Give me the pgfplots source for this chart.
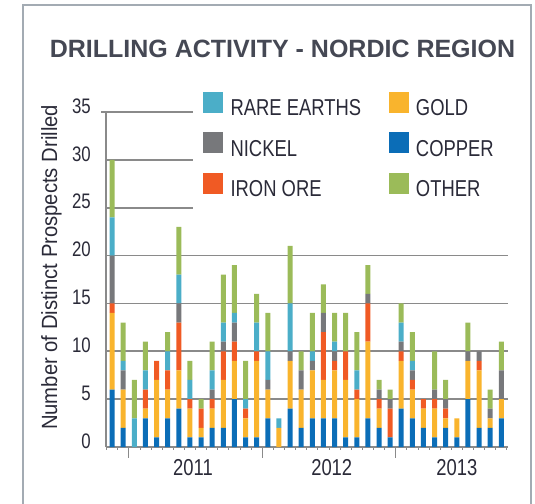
\documentclass[border=0pt]{standalone}
\usepackage{fontspec}
\setmainfont{Liberation Sans}
\newfontfamily\cond{Liberation Sans}[FakeStretch=0.8]
\newfontfamily\ylabfont{Liberation Sans}[FakeStretch=0.92]
\usepackage{pgfplots}
\usepackage{pgfplotstable}
\pgfplotsset{compat=1.18}
\definecolor{cCopper}{HTML}{0B6DB7}
\definecolor{cGold}{HTML}{F9B42D}
\definecolor{cIron}{HTML}{F05A24}
\definecolor{cNickel}{HTML}{77787B}
\definecolor{cRare}{HTML}{4BAEC8}
\definecolor{cOther}{HTML}{9BBB59}
\definecolor{cGrid}{HTML}{8A8A8A}
\definecolor{cText}{HTML}{2A2A38}
\definecolor{cTitle}{HTML}{454854}
\definecolor{cFrame}{HTML}{A3ABB3}

\pgfplotstableread{
i copper gold iron nickel rare other
1 6 8 1 5 4 6
2 2 4 0 2 1 4
3 0 0 0 0 3 4
4 3 1 2 0 2 3
5 1 6 2 0 0 0
6 3 3 2 0 2 2
7 4 4 5 2 3 5
8 1 3 1 0 2 2
9 1 1 2 0 0 1
10 2 2 1 1 2 3
11 2 5 3 1 2 5
12 5 4 2 2 1 5
13 1 2 1 0 1 4
14 1 8 1 0 3 3
15 3 3 0 1 3 4
16 0 2 0 0 1 0
17 4 5 0 1 5 6
18 2 4 0 2 0 2
19 3 5 0 1 1 4
20 3 4 5 2 0 3
21 3 5 1 1 1 3
22 1 6 3 0 0 4
23 1 4 1 0 2 4
24 3 8 4 1 0 3
25 2 2 1 1 0 1
26 1 0 3 1 0 1
27 4 5 1 1 2 2
28 3 3 1 1 1 3
29 2 2 1 0 0 0
30 1 3 1 1 0 4
31 2 1 1 1 0 2
32 1 2 0 0 0 0
33 5 4 0 1 0 3
34 2 6 1 1 0 0
35 2 1 0 1 0 2
36 3 2 0 3 0 3
}\drill

\begin{document}
\begin{tikzpicture}[x=1pt,y=1pt]
\useasboundingbox (0,0) rectangle (535,503);
\begin{axis}[
  at={(106pt,56pt)}, anchor=south west,
  scale only axis, width=402pt, height=335pt,
  xmin=0.45, xmax=36.6, ymin=0, ymax=35,
  ybar stacked, bar width=5pt,
  axis x line*=bottom, axis y line*=left,
  axis line style={-, cGrid, line width=1.8pt},
  ytick={0,5,...,35},
  ymajorgrids,
  major grid style={cGrid, line width=1.8pt, shorten <=-5pt},
  ytick style={draw=none},
  xtick={2.5,14.5,26.5}, xticklabels={},
  minor xtick={0.5,1.5,...,36.5},
  tick align=outside,
  major tick length=11pt, minor tick length=3pt,
  xtick style={cGrid, line width=1.4pt},
  minor x tick style={cGrid, line width=0.8pt},
  extra x ticks={8.27,20.75,32},
  extra x tick labels={2011,2012,2013},
  extra x tick style={tick style={draw=none}},
  xticklabel style={font=\cond\fontsize{23pt}{23pt}\selectfont, text=cText, inner sep=0pt, anchor=north, yshift=-1pt},
  yticklabel style={font=\cond\fontsize{21pt}{21pt}\selectfont, text=cText, inner sep=0pt, anchor=east, xshift=-4pt, yshift=6pt},
  /pgf/number format/assume math mode=true,
  ylabel={Number of Distinct Prospects Drilled},
  every axis y label/.style={at={(axis description cs:-0.1356,0.536)}, rotate=90, anchor=center, font=\ylabfont\fontsize{22pt}{22pt}\selectfont, text=cText},
  legend columns=2,
  legend cell align=left,
  legend style={at={(axis description cs:0.2164,1.1134)}, anchor=north west, fill=white, draw=none,
    inner xsep=10pt, inner ysep=18pt, column sep=8pt, row sep=14.5pt,
    font=\cond\fontsize{23pt}{23pt}\selectfont, text=cText,
    nodes={inner sep=0pt, text height=17pt, text depth=2pt}},
]
\addlegendimage{legend image code/.code={\fill[cRare] (0pt,-4pt) rectangle (19pt,16pt);}}
\addlegendentry{\makebox[150pt][l]{RARE EARTHS}}
\addlegendimage{legend image code/.code={\fill[cGold] (0pt,-4pt) rectangle (19pt,16pt);}}
\addlegendentry{\makebox[90pt][l]{GOLD}}
\addlegendimage{legend image code/.code={\fill[cNickel] (0pt,-4pt) rectangle (19pt,16pt);}}
\addlegendentry{\makebox[150pt][l]{NICKEL}}
\addlegendimage{legend image code/.code={\fill[cCopper] (0pt,-4pt) rectangle (19pt,16pt);}}
\addlegendentry{\makebox[90pt][l]{COPPER}}
\addlegendimage{legend image code/.code={\fill[cIron] (0pt,-4pt) rectangle (19pt,16pt);}}
\addlegendentry{\makebox[150pt][l]{IRON ORE}}
\addlegendimage{legend image code/.code={\fill[cOther] (0pt,-4pt) rectangle (19pt,16pt);}}
\addlegendentry{\makebox[90pt][l]{OTHER}}

\addplot[fill=cCopper, draw=none] table[x=i, y=copper]{\drill};
\addplot[fill=cGold, draw=none] table[x=i, y=gold]{\drill};
\addplot[fill=cIron, draw=none] table[x=i, y=iron]{\drill};
\addplot[fill=cNickel, draw=none] table[x=i, y=nickel]{\drill};
\addplot[fill=cRare, draw=none] table[x=i, y=rare]{\drill};
\addplot[fill=cOther, draw=none] table[x=i, y=other]{\drill};
\end{axis}
\node[text=cTitle, font=\fontsize{25pt}{25pt}\selectfont\bfseries, anchor=base] at (282.5,445) {DRILLING ACTIVITY - NORDIC REGION};
\draw[cFrame, line width=2pt] (23,-3) -- (23,498) -- (531,498) -- (531,-3);
\end{tikzpicture}
\end{document}
